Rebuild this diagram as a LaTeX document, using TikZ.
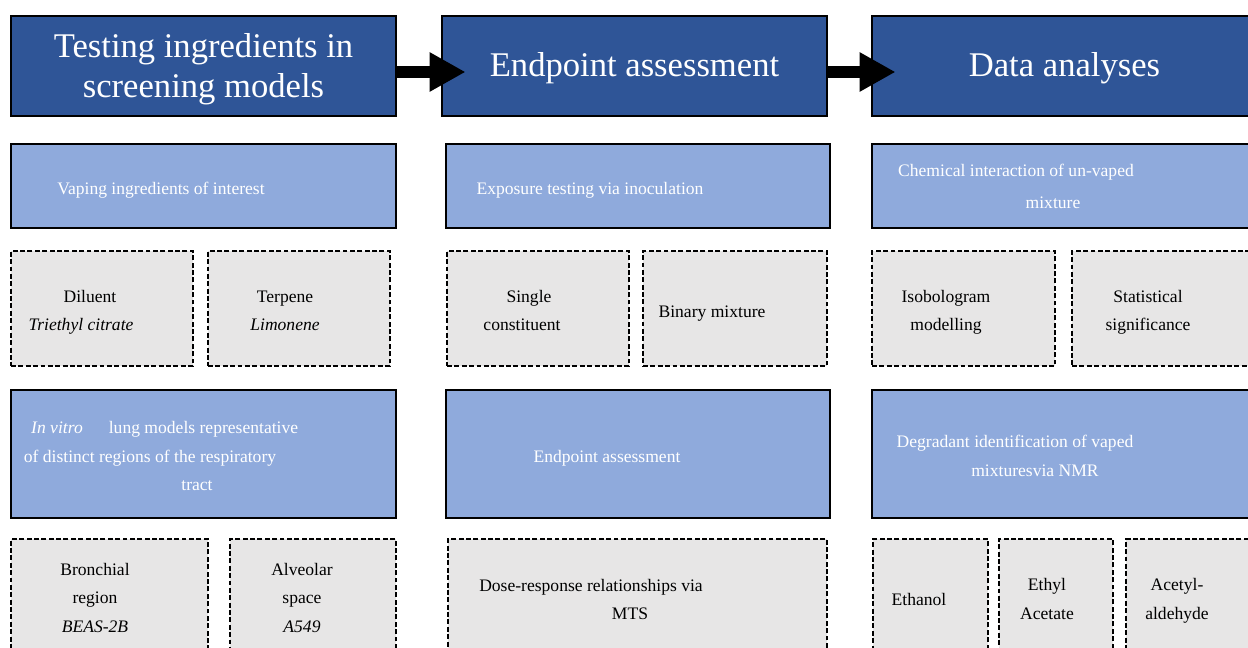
\documentclass[tikz,border=0pt]{standalone}
\usepackage{fontspec}
\setmainfont{Liberation Serif}
\usetikzlibrary{arrows.meta, positioning}
\definecolor{headblue}{HTML}{2F5597}
\definecolor{subblue}{HTML}{8FAADC}
\definecolor{itemgray}{HTML}{E7E6E6}

\begin{document}
\begin{tikzpicture}[
    x=0.02cm, y=-0.02cm,
    head/.style={rectangle, draw=black, line width=1pt, fill=headblue, text=white,
                 inner sep=0pt, outer sep=0pt, align=center,
                 minimum width=7.7cm, minimum height=2cm,
                 text height=14pt, text depth=2.6pt,
                 font=\fontsize{19.7}{23.3}\selectfont},
    sub/.style={rectangle, draw=black, line width=1pt, fill=subblue,
                inner sep=0pt, outer sep=0pt, minimum width=7.7cm},
    item/.style={rectangle, draw=black, line width=1.1pt, fill=itemgray,
                 dash pattern=on 2.8pt off 1.4pt, inner sep=0pt, outer sep=0pt},
    wtxt/.style={anchor=base, inner sep=0pt, align=center, text=white,
                 font=\fontsize{10}{16.1}\selectfont},
    btxt/.style={anchor=base, inner sep=0pt, align=center, text=black,
                 font=\fontsize{10}{16.1}\selectfont},
    arr/.style={-{Triangle[length=0.72cm, width=0.74cm]}, line width=0.24cm,
                color=black, shorten >=-0.47cm}
  ]
    \useasboundingbox (0,0) rectangle (1248,648);
    \clip (0,0) rectangle (1248,648);

    % headers
    \node[head, text height=38pt, text depth=1.6pt] (testing) at (203.5,66)
      {Testing ingredients in\\screening models};
    \node[head] (endpoint) at (634.5,66) {Endpoint assessment};
    \node[head] (data)     at (1064.5,66) {Data analyses};

    % second row
    \node[sub, minimum height=1.68cm] (vaping)   at (203.5,186) {};
    \node[sub, minimum height=1.68cm, minimum width=7.68cm] (exposure) at (638,186) {};
    \node[sub, minimum height=1.68cm] (chemical) at (1064.5,186) {};

    \node[wtxt] (t-vaping)   at (161,195) {Vaping ingredients of interest};
    \node[wtxt] (t-exposure) at (590,195) {Exposure testing via inoculation};
    \node[wtxt] (t-chem1)    at (1016,177) {Chemical interaction of un-vaped};
    \node[wtxt] (t-chem2)    at (1053,209) {mixture};

    % third row
    \node[item, minimum width=3.64cm, minimum height=2.3cm] (diluent) at (102,308.5) {};
    \node[item, minimum width=3.64cm, minimum height=2.3cm] (terpene) at (299,308.5) {};
    \node[item, minimum width=3.64cm, minimum height=2.3cm] (single)  at (538,308.5) {};
    \node[item, minimum width=3.68cm, minimum height=2.3cm] (binary)  at (735,308.5) {};
    \node[item, minimum width=3.66cm, minimum height=2.3cm] (isobol)  at (963.5,308.5) {};
    \node[item, minimum width=3.66cm, minimum height=2.3cm] (stats)   at (1163.5,308.5) {};

    \node[btxt] (t-dil1)    at (90,303) {Diluent};
    \node[btxt] (t-dil2)    at (81,331) {\textit{Triethyl citrate}};
    \node[btxt] (t-terp)    at (285,331) {Terpene\\\textit{Limonene}};
    \node[btxt] (t-single1) at (529,303) {Single};
    \node[btxt] (t-single2) at (522,331) {constituent};
    \node[btxt] (t-binary)  at (712,318) {Binary mixture};
    \node[btxt] (t-isobol)  at (946,331) {Isobologram\\modelling};
    \node[btxt] (t-stats)   at (1148,331) {Statistical\\significance};

    % fourth row
    \node[sub, minimum height=2.56cm] (lung)      at (203.5,454) {};
    \node[sub, minimum height=2.56cm, minimum width=7.68cm] (assess) at (638,454) {};
    \node[sub, minimum height=2.56cm] (degradant) at (1064.5,454) {};

    \node[wtxt] (t-vitro)  at (57,434) {\textit{In vitro}};
    \node[wtxt] (t-lung1)  at (203.5,434) {lung models representative};
    \node[wtxt] (t-lung2)  at (150,463) {of distinct regions of the respiratory};
    \node[wtxt] (t-lung3)  at (197,491) {tract};
    \node[wtxt] (t-assess) at (607,463) {Endpoint assessment};
    \node[wtxt] (t-degr1)  at (1015,448) {Degradant identification of vaped};
    \node[wtxt] (t-degr2)  at (1035,477) {mixturesvia NMR};

    % fifth row
    \node[item, minimum width=3.94cm, minimum height=2.42cm] (bronchial) at (109.5,599.5) {};
    \node[item, minimum width=3.32cm, minimum height=2.42cm] (alveolar)  at (313,599.5) {};
    \node[item, minimum width=7.58cm, minimum height=2.42cm] (dose)      at (637.5,599.5) {};
    \node[item, minimum width=2.3cm,  minimum height=2.42cm] (ethanol)   at (930.5,599.5) {};
    \node[item, minimum width=2.28cm, minimum height=2.42cm] (ethyl)     at (1056,599.5) {};
    \node[item, minimum width=2.6cm,  minimum height=2.42cm] (acetyl)    at (1191,599.5) {};

    \node[btxt] (t-bronch)  at (95,632) {Bronchial\\region\\\textit{BEAS-2B}};
    \node[btxt] (t-alveol)  at (302,632) {Alveolar\\space\\\textit{A549}};
    \node[btxt] (t-dose1)   at (591,591) {Dose-response relationships via};
    \node[btxt] (t-dose2)   at (630,619) {MTS};
    \node[btxt] (t-ethanol) at (919,605) {Ethanol};
    \node[btxt] (t-ethyl)   at (1047,619) {Ethyl\\Acetate};
    \node[btxt] (t-acetyl)  at (1177,619) {Acetyl-\\aldehyde};

    \draw[arr] ([yshift=-0.12cm]testing.east)  -- ([yshift=-0.12cm]endpoint.west);
    \draw[arr] ([yshift=-0.12cm]endpoint.east) -- ([yshift=-0.12cm]data.west);
  \end{tikzpicture}
\end{document}
